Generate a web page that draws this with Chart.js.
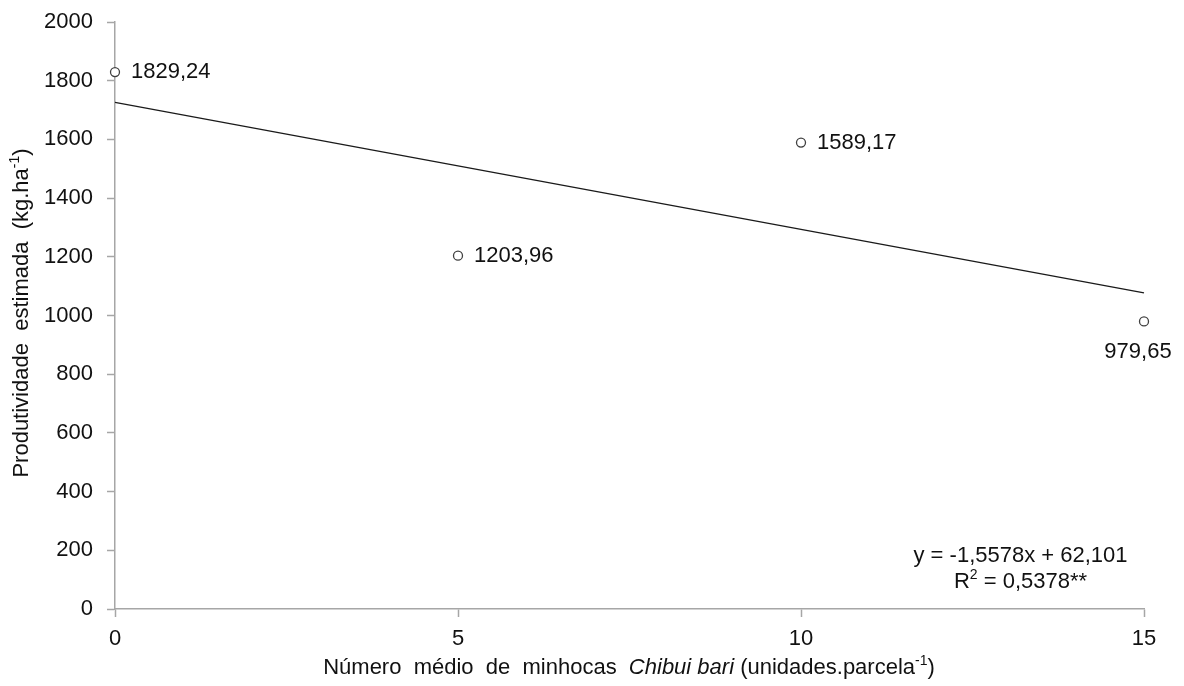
<!DOCTYPE html>
<html>
<head>
<meta charset="utf-8">
<script src="https://cdn.jsdelivr.net/npm/chart.js@4/dist/chart.umd.min.js"></script>
<style>
  html, body { margin: 0; padding: 0; background: #fff; }
  #wrap { width: 1184px; height: 686px; }
</style>
</head>
<body>
<div id="wrap"><canvas id="c" width="1184" height="686"></canvas></div>
<script>
// Observed earthworm counts and estimated yield
const wormCounts = [0, 5, 10, 15];
const yieldValues = [1829.24, 1203.96, 1589.17, 979.65];
const yieldLabels = ['1829,24', '1203,96', '1589,17', '979,65'];

// Fitted trend line, read at its two ends
const trendX = [0, 15];
const trendY = [1726, 1077];

// Axis ticks
const xTicks = [0, 5, 10, 15];
const yTicks = [0, 200, 400, 600, 800, 1000, 1200, 1400, 1600, 1800, 2000];

const equationLines = [
  [{ t: 'y = -1,5578x + 62,101' }],
  [{ t: 'R' }, { t: '2', sup: true }, { t: ' = 0,5378**' }]
];

const FONT = '"Liberation Sans", Arial, sans-serif';
const TEXT = '#111111';
const AXIS = '#a6a6a6';

// Where each value label sits relative to its point
const labelPlacement = [
  { dx: 16, dy: 0, align: 'left' },
  { dx: 16, dy: 0, align: 'left' },
  { dx: 16, dy: 0, align: 'left' },
  { dx: -6, dy: 30, align: 'center' }
];

// Draw a line of mixed text runs (italic / superscript), anchored by alignment
function drawRich(ctx, runs, x, y, align, size) {
  const fontFor = r => (r.italic ? 'italic ' : '') + (r.sup ? Math.round(size * 0.62) : size) + 'px ' + FONT;
  let total = 0;
  runs.forEach(r => { ctx.font = fontFor(r); total += ctx.measureText(r.t).width; });
  let cx = align === 'center' ? x - total / 2 : (align === 'right' ? x - total : x);
  ctx.textAlign = 'left';
  ctx.textBaseline = 'middle';
  runs.forEach(r => {
    ctx.font = fontFor(r);
    ctx.fillText(r.t, cx, r.sup ? y - size * 0.33 : y);
    cx += ctx.measureText(r.t).width;
  });
}

const annotations = {
  id: 'annotations',
  afterDatasetsDraw(chart) {
    const ctx = chart.ctx;
    ctx.save();
    ctx.fillStyle = TEXT;
    // value labels next to the points
    const meta = chart.getDatasetMeta(1);
    meta.data.forEach((pt, i) => {
      const p = labelPlacement[i];
      ctx.font = '22px ' + FONT;
      ctx.textAlign = p.align;
      ctx.textBaseline = 'middle';
      ctx.fillText(yieldLabels[i], pt.x + p.dx, pt.y + p.dy);
    });
    // regression equation
    const xs = chart.scales.x, ys = chart.scales.y;
    const ex = xs.getPixelForValue(13.2);
    drawRich(ctx, equationLines[0], ex, ys.getPixelForValue(180), 'center', 22);
    drawRich(ctx, equationLines[1], ex, ys.getPixelForValue(92), 'center', 22);

    // x-axis title
    const xt = [
      { t: 'Número  médio  de  minhocas  ' },
      { t: 'Chibui bari', italic: true },
      { t: ' (unidades.parcela' },
      { t: '-1', sup: true },
      { t: ')' }
    ];
    drawRich(ctx, xt, 629, 668, 'center', 22);

    // y-axis title (rotated)
    const yt = [
      { t: 'Produtividade  estimada  (kg.ha' },
      { t: '-1', sup: true },
      { t: ')' }
    ];
    ctx.translate(22, 313);
    ctx.rotate(-Math.PI / 2);
    drawRich(ctx, yt, 0, 0, 'center', 22);
    ctx.restore();
  }
};

new Chart(document.getElementById('c'), {
  type: 'scatter',
  data: {
    datasets: [
      {
        label: 'trend',
        data: trendX.map((x, i) => ({ x, y: trendY[i] })),
        showLine: true,
        borderColor: '#1a1a1a',
        borderWidth: 1.3,
        pointRadius: 0,
        fill: false,
        clip: false
      },
      {
        label: 'observed',
        data: wormCounts.map((x, i) => ({ x, y: yieldValues[i] })),
        pointRadius: 4.5,
        pointBorderWidth: 1.3,
        pointBorderColor: '#404040',
        pointBackgroundColor: '#ffffff',
        clip: false
      }
    ]
  },
  options: {
    responsive: false,
    animation: false,
    layout: { padding: { left: 0, right: 40, top: 22, bottom: 0 } },
    plugins: { legend: { display: false }, tooltip: { enabled: false } },
    scales: {
      x: {
        type: 'linear',
        min: 0, max: 15,
        afterBuildTicks: s => { s.ticks = xTicks.map(v => ({ value: v })); },
        afterFit: s => { s.height = 77; s.paddingLeft = 0; s.paddingRight = 0; },
        grid: { drawOnChartArea: false, drawTicks: true, tickLength: 8, tickColor: AXIS, tickWidth: 1.5 },
        border: { color: AXIS, width: 1.5 },
        ticks: { color: TEXT, font: { family: FONT, size: 22 }, padding: 9, callback: v => String(v) }
      },
      y: {
        min: 0, max: 2000,
        afterBuildTicks: s => { s.ticks = yTicks.map(v => ({ value: v })); },
        afterFit: s => { s.width = 115; s.paddingTop = 0; s.paddingBottom = 0; },
        grid: { drawOnChartArea: false, drawTicks: true, tickLength: 8, tickColor: AXIS, tickWidth: 1.5 },
        border: { color: AXIS, width: 1.5 },
        ticks: { color: TEXT, font: { family: FONT, size: 22 }, padding: 14, callback: v => String(v) }
      }
    }
  },
  plugins: [annotations]
});
</script>
</body>
</html>
